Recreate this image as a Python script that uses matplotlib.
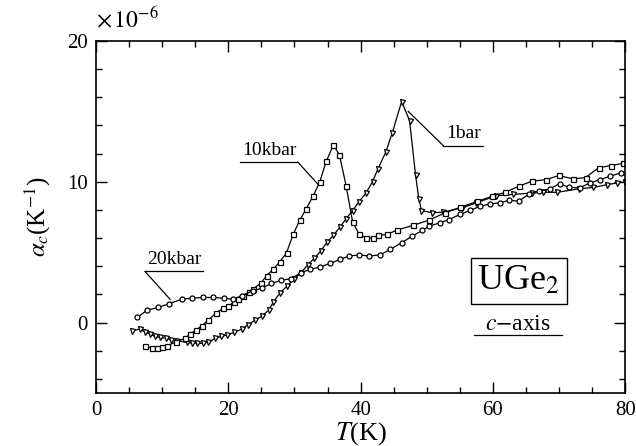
import matplotlib
matplotlib.use("Agg")
import matplotlib.pyplot as plt
from matplotlib.ticker import MultipleLocator

plt.rcParams['font.family'] = ['Liberation Serif', 'DejaVu Serif']
plt.rcParams['mathtext.fontset'] = 'stix'

# 1 bar (triangles)
T_1bar = [5.4, 6.6, 7.4, 8.2, 8.9, 9.7, 10.6, 11.4, 12.3, 13.7, 14.5, 15.3, 16.1, 17.0, 18.0,
          18.9, 19.8, 20.9, 22.0, 22.9, 24.1, 25.1, 26.1, 26.8, 27.8, 28.9, 29.9, 31.0, 32.0,
          33.0, 34.0, 34.9, 35.9, 36.9, 37.8, 38.8, 39.7, 40.8, 41.8, 42.6, 43.8, 44.8, 46.2,
          47.4, 48.3, 48.8, 49.2, 50.8, 52.5, 55.3, 57.5, 60.4, 63.0, 65.9, 67.6, 69.7, 73.0,
          75.2, 77.3, 78.8, 80.0]
a_1bar = [-0.59, -0.47, -0.66, -0.82, -0.99, -1.06, -1.13, -1.22, -1.30, -1.41, -1.46, -1.48,
          -1.48, -1.39, -1.13, -0.98, -0.89, -0.70, -0.47, -0.18, 0.19, 0.47, 0.88, 1.45, 2.1,
          2.6, 3.07, 3.55, 4.1, 4.56, 5.1, 5.7, 6.2, 6.8, 7.37, 7.96, 8.55, 9.2, 10.0, 10.9,
          12.1, 13.5, 15.7, 14.35, 10.5, 8.8, 7.96, 7.8, 7.84, 8.15, 8.5, 9.0, 9.1, 9.2, 9.26,
          9.25, 9.5, 9.6, 9.8, 9.92, 10.0]

# 10 kbar (squares)
T_10kbar = [7.4, 8.4, 9.2, 9.9, 10.8, 12.1, 13.4, 14.2, 15.1, 16.0, 17.0, 18.2, 19.2, 20.0,
            20.9, 21.5, 22.2, 23.2, 23.8, 24.9, 25.8, 26.8, 27.8, 28.8, 29.8, 30.8, 31.8, 32.8,
            33.8, 34.8, 35.9, 36.8, 37.8, 38.8, 39.8, 40.8, 41.9, 42.7, 44.0, 45.5, 47.9, 50.3,
            52.8, 55.1, 57.6, 59.9, 61.9, 63.9, 65.9, 68.0, 70.0, 72.1, 74.0, 76.0, 77.8, 79.6]
a_10kbar = [-1.70, -1.80, -1.80, -1.77, -1.65, -1.37, -1.13, -0.82, -0.54, -0.23, 0.19, 0.71,
            1.0, 1.18, 1.47, 1.66, 1.9, 2.17, 2.4, 2.8, 3.33, 3.8, 4.33, 4.95, 6.26, 7.27, 8.1,
            8.97, 9.96, 11.45, 12.63, 11.9, 9.73, 7.13, 6.26, 6.03, 5.98, 6.2, 6.26, 6.57, 6.9,
            7.27, 7.8, 8.2, 8.6, 8.97, 9.26, 9.68, 10.04, 10.15, 10.45, 10.2, 10.3, 11.0,
            11.15, 11.3]

# 20 kbar (circles)
T_20kbar = [6.25, 7.7, 9.4, 11.1, 13.0, 14.5, 16.2, 17.7, 19.3, 20.7, 22.0, 23.7, 25.1, 26.5,
            28.0, 29.5, 31.0, 32.4, 33.8, 35.4, 36.9, 38.3, 39.8, 41.3, 42.9, 44.5, 46.2, 47.8,
            49.3, 50.4, 52.0, 53.4, 55.0, 56.6, 58.1, 59.6, 61.0, 62.5, 63.9, 65.5, 66.9, 68.6,
            70.1, 71.5, 73.1, 74.7, 76.2, 77.7, 79.3]
a_20kbar = [0.36, 0.88, 1.07, 1.35, 1.66, 1.73, 1.78, 1.78, 1.73, 1.66, 1.9, 2.25, 2.45, 2.78,
            3.0, 3.12, 3.55, 3.78, 3.94, 4.2, 4.49, 4.73, 4.8, 4.73, 4.8, 5.2, 5.67, 6.14, 6.54,
            6.85, 7.09, 7.32, 7.68, 7.98, 8.26, 8.43, 8.5, 8.69, 8.62, 9.14, 9.33, 9.5, 9.87,
            9.6, 9.57, 9.92, 10.15, 10.39, 10.63]

fig = plt.figure(figsize=(6.36, 4.46), dpi=100)
ax = fig.add_axes([0.151, 0.119, 0.832, 0.789])

estilo = dict(color='black', lw=0.9, markersize=3.6, markerfacecolor='white',
              markeredgecolor='black', markeredgewidth=0.9)
ax.plot(T_1bar, a_1bar, marker='v', **estilo)
ax.plot(T_10kbar, a_10kbar, marker='s', **estilo)
ax.plot(T_20kbar, a_20kbar, marker='o', **estilo)

ax.set_xlim(0, 80)
ax.set_ylim(-5, 20)
ax.xaxis.set_major_locator(MultipleLocator(20))
ax.xaxis.set_minor_locator(MultipleLocator(5))
ax.yaxis.set_major_locator(MultipleLocator(10))
ax.yaxis.set_minor_locator(MultipleLocator(2))
ax.tick_params(which='both', direction='in', top=True, right=True, width=1.0)
ax.tick_params(which='major', length=8, labelsize=15, pad=6)
ax.tick_params(which='minor', length=4)
for s in ax.spines.values():
    s.set_linewidth(1.2)

ax.set_xlabel(r'$T$(K)', fontsize=19, labelpad=0)
ax.set_ylabel(r'$\alpha_c$(K$^{-1}$)', fontsize=18, labelpad=10)
ax.text(0.0, 1.025, r'$\times\,10^{-6}$', transform=ax.transAxes, fontsize=17,
        ha='left', va='bottom')

# labels with leader lines and underlines
lin = dict(color='black', lw=0.9)
ax.text(55.5, 12.8, '1bar', fontsize=14, ha='center', va='bottom')
ax.plot([52.5, 58.5], [12.57, 12.57], **lin)
ax.plot([47.2, 52.5], [15.0, 12.57], **lin)

ax.text(26.2, 11.6, '10kbar', fontsize=14, ha='center', va='bottom')
ax.plot([21.8, 30.5], [11.4, 11.4], **lin)
ax.plot([30.5, 33.6], [11.4, 9.8], **lin)

ax.text(11.8, 3.85, '20kbar', fontsize=14, ha='center', va='bottom')
ax.plot([7.4, 16.2], [3.63, 3.63], **lin)
ax.plot([7.4, 11.2], [3.63, 1.65], **lin)

ax.text(63.9, 2.97, r'UGe$_2$', fontsize=26, ha='center', va='center',
        bbox=dict(boxstyle='square,pad=0.18', facecolor='white', edgecolor='black', lw=1.0))
ax.text(63.8, -0.55, r'$c$$-$axis', fontsize=17, ha='center', va='baseline')
ax.plot([57.2, 70.5], [-0.9, -0.9], **lin)

plt.savefig('out.png', dpi=100)
